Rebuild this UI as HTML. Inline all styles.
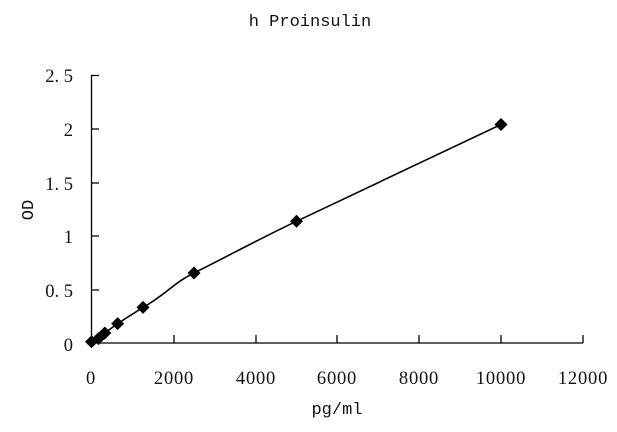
<!DOCTYPE html>
<html><head><style>body{margin:0;background:#fff}svg text{font-family:"Liberation Serif","Noto Serif CJK SC",serif;fill:#111}</style></head>
<body>
<svg width="617" height="427" viewBox="0 0 617 427" xmlns="http://www.w3.org/2000/svg">
<rect width="617" height="427" fill="#fff"/>
<text x="310" y="26" font-size="17" text-anchor="middle" style="font-family:'Liberation Mono',monospace">h Proinsulin</text>
<g stroke="#000" stroke-width="1.3" fill="none">
<line x1="91.5" y1="75" x2="91.5" y2="343"/>
<line x1="91" y1="343" x2="583" y2="343"/>
<line x1="91" y1="75.5" x2="99" y2="75.5"/>
<line x1="91" y1="129" x2="99" y2="129"/>
<line x1="91" y1="183" x2="99" y2="183"/>
<line x1="91" y1="236" x2="99" y2="236"/>
<line x1="91" y1="290" x2="99" y2="290"/>
<line x1="174" y1="343" x2="174" y2="335"/>
<line x1="256" y1="343" x2="256" y2="335"/>
<line x1="337" y1="343" x2="337" y2="335"/>
<line x1="419" y1="343" x2="419" y2="335"/>
<line x1="501" y1="343" x2="501" y2="335"/>
<line x1="583" y1="343" x2="583" y2="335"/>
</g>
<g font-size="18.5" text-anchor="end">
<text x="73" y="82">2. 5</text><text x="73" y="136">2</text><text x="73" y="190">1. 5</text>
<text x="73" y="243">1</text><text x="73" y="297">0. 5</text><text x="73" y="351">0</text>
</g>
<g font-size="18.5" text-anchor="middle" letter-spacing="0.8">
<text x="91" y="384">0</text><text x="174" y="384">2000</text><text x="256" y="384">4000</text>
<text x="337" y="384">6000</text><text x="419" y="384">8000</text><text x="501" y="384">10000</text><text x="583" y="384">12000</text>
<text x="337" y="414" style="font-family:'Liberation Mono',monospace" font-size="17" letter-spacing="0">pg/ml</text>
</g>
<text x="33" y="210" font-size="17" text-anchor="middle" transform="rotate(-90 33 210)" style="font-family:'Liberation Mono',monospace">OD</text>
<path d="M91.5,341.8 L98.4,338.6 L104.8,333 L117.6,323.6 L143,307.4 C165,295 175,282 194,273 C230,255 265,236 296.5,221.3 L501,124.5" stroke="#000" stroke-width="1.6" fill="none"/>
<g fill="#000">
<path d="M91.5,335.3 l6.5,6.5 l-6.5,6.5 l-6.5,-6.5z"/>
<path d="M98.4,332.1 l6.5,6.5 l-6.5,6.5 l-6.5,-6.5z"/>
<path d="M104.8,326.5 l6.5,6.5 l-6.5,6.5 l-6.5,-6.5z"/>
<path d="M117.6,317.1 l6.5,6.5 l-6.5,6.5 l-6.5,-6.5z"/>
<path d="M143,300.9 l6.5,6.5 l-6.5,6.5 l-6.5,-6.5z"/>
<path d="M194,266.5 l6.5,6.5 l-6.5,6.5 l-6.5,-6.5z"/>
<path d="M296.5,214.8 l6.5,6.5 l-6.5,6.5 l-6.5,-6.5z"/>
<path d="M501,118 l6.5,6.5 l-6.5,6.5 l-6.5,-6.5z"/>
</g>
</svg>
</body></html>
